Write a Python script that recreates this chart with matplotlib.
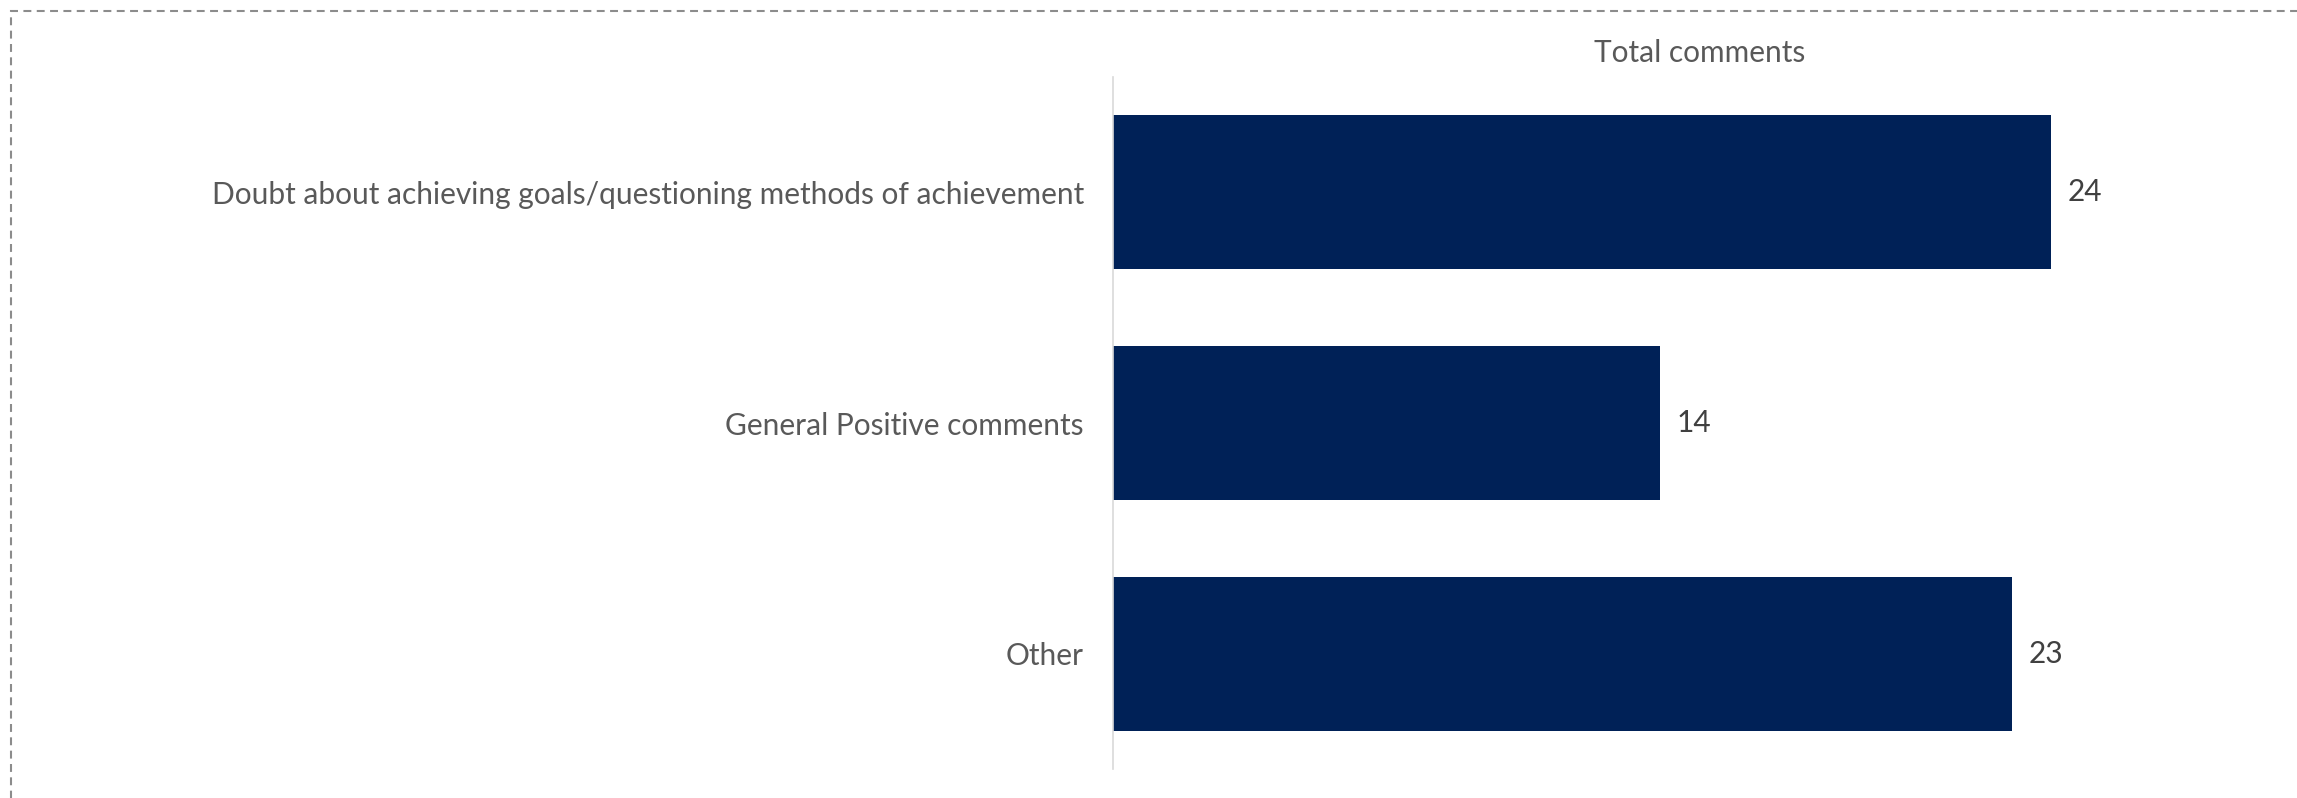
import matplotlib.pyplot as plt
from matplotlib.patches import Rectangle

plt.rcParams['font.family'] = ['Lato', 'DejaVu Sans']

categories = ['Doubt about achieving goals/questioning methods of achievement',
              'General Positive comments',
              'Other']
totals = [24, 14, 23]
title = 'Total comments'

W, H = 2297, 798
fig = plt.figure(figsize=(W / 100, H / 100), dpi=100)

# plot area in pixels: left edge of bars, top/bottom of category axis
x0, x1 = 1113, 2250
y_top, y_bot = 77, 769
ax = fig.add_axes([x0 / W, 1 - y_bot / H, (x1 - x0) / W, (y_bot - y_top) / H])

ypos = list(range(len(categories)))
bars = ax.barh(ypos, totals, height=0.667, color='#002157')
ax.set_ylim(len(categories) - 0.5, -0.5)
ax.set_xlim(0, (x1 - x0) / 39.08)

ax.set_yticks(ypos)
ax.set_yticklabels(categories, fontsize=21.5, color='#595959')
ax.tick_params(axis='y', length=0, pad=21)
ax.set_xticks([])

for s in ['top', 'right', 'bottom']:
    ax.spines[s].set_visible(False)
ax.spines['left'].set_color('#d9d9d9')
ax.spines['left'].set_linewidth(1.2)

for b, v in zip(bars, totals):
    ax.annotate(str(v), (b.get_width(), b.get_y() + b.get_height() / 2),
                xytext=(12, 0), textcoords='offset points',
                va='center', ha='left', fontsize=21.5, color='#404040')

fig.text(1700 / W, 1 - 53 / H, title, ha='center', va='center',
         fontsize=21.5, color='#595959')

# dashed frame, running off the right and bottom edges
frame = Rectangle((11 / W, -0.1), 1.2, 1 - 11 / H + 0.1,
                  transform=fig.transFigure, fill=False,
                  edgecolor='#8c8c8c', linewidth=1.5,
                  linestyle=(0, (3.8, 2.6)), clip_on=False)
fig.patches.append(frame)

fig.savefig('out.png', dpi=100)
